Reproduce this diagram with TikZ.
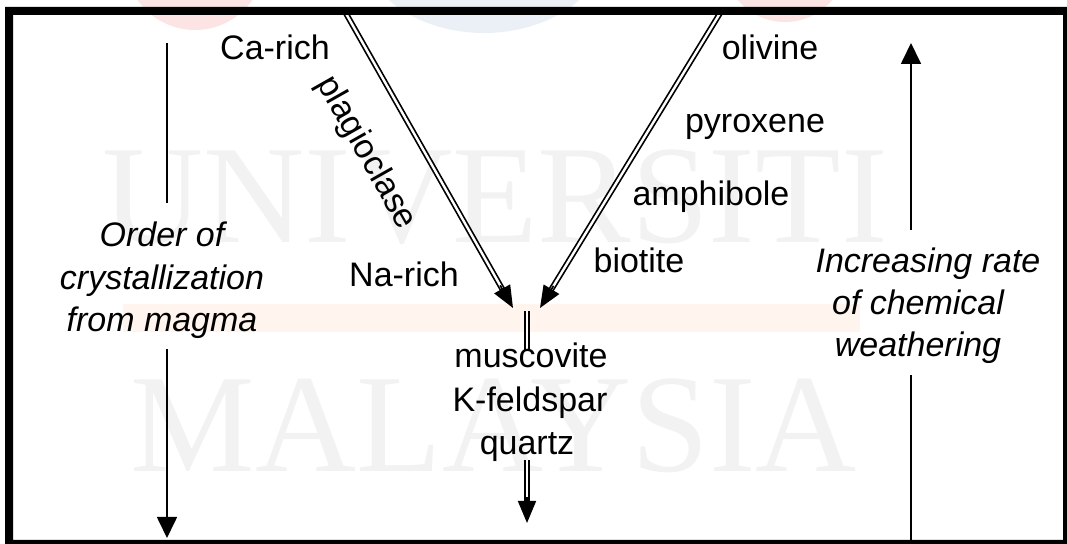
\documentclass[tikz,border=0pt]{standalone}
\usepackage{fontspec}
\setmainfont{Liberation Sans}
\newfontfamily\wmfont{Liberation Serif}
\usetikzlibrary{arrows.meta,calc}
\definecolor{wmblue}{RGB}{234,240,246}
\definecolor{wmpink}{RGB}{252,228,228}
\definecolor{wmband}{RGB}{255,245,238}
\definecolor{wmgray}{RGB}{242,242,242}
\begin{document}
\begin{tikzpicture}[x=0.5pt,y=-0.5pt,
  lbl/.style={font=\fontsize{17pt}{21pt}\selectfont, inner sep=0pt, anchor=base, text=black},
  ilbl/.style={lbl, font=\fontsize{17pt}{21pt}\selectfont\itshape},
  dbl/.style={draw=black, line width=0.85pt, double=white, double distance=1.2pt},
  tipdbl/.style={line width=0.85pt, -{Triangle[length=11pt,width=9pt]}},
  sgl/.style={line width=0.85pt},
  sglarrow/.style={sgl, -{Triangle[length=10.5pt,width=10pt]}},
  wm/.style={font=\wmfont\fontsize{70pt}{70pt}\selectfont, text=wmgray, inner sep=0pt, anchor=base},
]
\useasboundingbox (0,0) rectangle (1067,544);
% faint watermark
\fill[wmpink] (195,-40) circle[radius=70];
\fill[wmpink] (785,-40) circle[radius=62];
\fill[wmblue] (484,-60) ellipse[x radius=125, y radius=93];
\fill[wmband] (123,304) rectangle (860,332);
\node[wm] (wm1) at (495,243) {UNIVERSITI};
\node[wm] (wm2) at (494,472) {MALAYSIA};

% V arrows
\coordinate (ltop) at (344,10);
\coordinate (ltip) at (513,308);
\coordinate (rtop) at (722,10);
\coordinate (rtip) at (540,308);
\draw[dbl, shorten >=10pt] (ltop) -- (ltip);
\draw[tipdbl] ($(ltip)!13pt!(ltop)$) -- (ltip);
\draw[dbl, shorten >=10pt] (rtop) -- (rtip);
\draw[tipdbl] ($(rtip)!13pt!(rtop)$) -- (rtip);

% labels on the left branch
\node[lbl] (carich) at (275,60) {Ca-rich};
\node[lbl, anchor=center, rotate=-60.5] (plag) at (366,153) {plagioclase};
\node[lbl] (narich) at (404,287) {Na-rich};

% labels on the right branch
\node[lbl] (oliv) at (770,60) {olivine};
\node[lbl] (pyro) at (755,133) {pyroxene};
\node[lbl] (amph) at (711,206) {amphibole};
\node[lbl] (biot) at (639,273) {biotite};

% bottom column
\coordinate (mtop) at (527,311);
\coordinate (mbot) at (527,350);
\draw[dbl] (mtop) -- (mbot);
\node[lbl] (musc) at (531,368) {muscovite};
\node[lbl] (kfel) at (530,412) {K-feldspar};
\node[lbl] (quar) at (527,455) {quartz};
\coordinate (qtop) at (527,460);
\coordinate (qtip) at (527,523);
\draw[dbl, shorten >=10pt] (qtop) -- (qtip);
\draw[tipdbl] ($(qtip)!13pt!(qtop)$) -- (qtip);

% left side: order of crystallization
\node[ilbl] (ord1) at (162,247) {Order of};
\node[ilbl] (ord2) at (162,290) {crystallization};
\node[ilbl] (ord3) at (162,332) {from magma};
\coordinate (la1) at (167,43);
\coordinate (la2) at (167,203);
\coordinate (la3) at (167,349);
\coordinate (la4) at (167,538);
\draw[sgl] (la1) -- (la2);
\draw[sglarrow] (la3) -- (la4);

% right side: weathering
\node[ilbl] (inc1) at (928,273) {Increasing rate};
\node[ilbl] (inc2) at (918,315) {of chemical};
\node[ilbl] (inc3) at (918,357) {weathering};
\coordinate (ra0) at (911,43);
\coordinate (ra1) at (911,230);
\coordinate (ra2) at (911,375);
\coordinate (ra3) at (911,541);
\draw[sglarrow] (ra1) -- (ra0);
\draw[sgl] (ra2) -- (ra3);

% frame
\fill[black, even odd rule] (5,7) rectangle (1067,544) (13,15) rectangle (1063,540);
\end{tikzpicture}
\end{document}
